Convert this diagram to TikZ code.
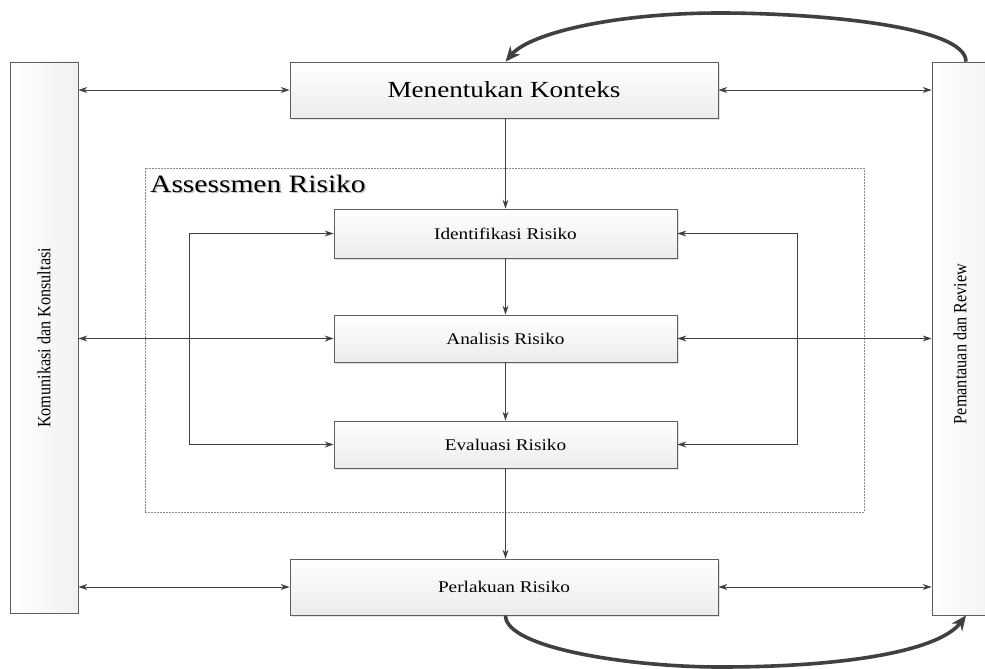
\documentclass[tikz,border=0pt]{standalone}
\usepackage{fontspec}
\setmainfont[FakeStretch=1.18]{Liberation Serif}
\newfontfamily\vfont{Liberation Serif}
\usetikzlibrary{arrows.meta,shadows,calc}
\definecolor{edgec}{HTML}{5E5E5E}
\definecolor{arrowc}{HTML}{404040}
\begin{document}
\begin{tikzpicture}[x=1pt,y=-1pt,
  >={Stealth[length=9pt,width=6pt]},
  box/.style={draw=edgec, line width=0.8pt, top color=white, bottom color=gray!15,
    drop shadow={shadow xshift=1.5pt, shadow yshift=-1.5pt, opacity=0.22},
    inner sep=0pt, font=\fontsize{16.3}{19}\selectfont},
  bar/.style={draw=edgec, line width=0.8pt, left color=white, right color=gray!11,
    inner sep=0pt, minimum width=68pt},
  arr/.style={draw=arrowc, line width=0.9pt},
  bigarr/.style={draw=arrowc, line width=3.6pt, -{Stealth[length=15pt,width=13pt]}},
  vtext/.style={inner sep=0pt, rotate=90, font=\vfont\fontsize{16.2}{19}\selectfont}
]
\clip (0,0) rectangle (985,669);
\fill[white] (0,0) rectangle (985,669);

% side bars
\node[bar, minimum height=551pt] (kk) at (44,337.5) {};
\node[vtext] (kktext) at (44,338) {\scalebox{1}[1.15]{Komunikasi dan Konsultasi}};
\node[bar, minimum height=553pt] (pr) at (966,338.5) {};
\node[vtext] (prtext) at (960,344) {\scalebox{1}[1.15]{Pemantauan dan Review}};

% assessment frame
\node[draw=gray!90, dash pattern=on 2pt off 1pt, line width=0.7pt,
      minimum width=719pt, minimum height=344pt, inner sep=0pt] (frame) at (504.5,340) {};
\node[anchor=base west, inner sep=0pt, text=gray!45, font=\fontsize{25}{28}\selectfont]
  (astitleshadow) at (151.5,193.5) {Assessmen Risiko};
\node[anchor=base west, inner sep=0pt, font=\fontsize{25}{28}\selectfont]
  (astitle) at (150,192) {Assessmen Risiko};

% boxes
\node[box, minimum width=428pt, minimum height=56pt, font=\fontsize{23}{27}\selectfont]
  (mk) at (504,90) {Menentukan Konteks};
\node[box, minimum width=343pt, minimum height=49pt] (id) at (505.5,233.5) {Identifikasi Risiko};
\node[box, minimum width=343pt, minimum height=47pt] (an) at (505.5,338.5) {Analisis Risiko};
\node[box, minimum width=343pt, minimum height=47pt] (ev) at (505.5,444.5) {Evaluasi Risiko};
\node[box, minimum width=428pt, minimum height=56pt] (pl) at (504,587) {Perlakuan Risiko};

% loop coordinates
\coordinate (lx) at (189,0);
\coordinate (rx) at (797,0);

% vertical flow
\draw[arr, ->] (mk.south -| id.north) -- (id.north);
\draw[arr, ->] (id.south) -- (an.north);
\draw[arr, ->] (an.south) -- (ev.north);
\draw[arr, ->] (ev.south) -- (ev.south |- pl.north);

% loops
\draw[arr, <->] (id.west) -- (id.west -| lx) -- (ev.west -| lx) -- (ev.west);
\draw[arr, <->] (id.east) -- (id.east -| rx) -- (ev.east -| rx) -- (ev.east);

% horizontal links
\draw[arr, <->] (mk.west -| kk.east) -- (mk.west);
\draw[arr, <->] (mk.east) -- (mk.east -| pr.west);
\draw[arr, <->] (an.west -| kk.east) -- (an.west);
\draw[arr, <->] (an.east) -- (an.east -| pr.west);
\draw[arr, <->] (pl.west -| kk.east) -- (pl.west);
\draw[arr, <->] (pl.east) -- (pl.east -| pr.west);

% big curved arrows
\draw[bigarr] (pr.north) .. controls (966,25) and (810,13) .. (720,13)
  .. controls (615,13) and (530,33) .. (mk.north -| id.north);
\draw[bigarr] (pl.south -| id.south) .. controls (505,648) and (630,667) .. (720,667)
  .. controls (850,667) and (940,650) .. (pr.south);
\end{tikzpicture}
\end{document}
